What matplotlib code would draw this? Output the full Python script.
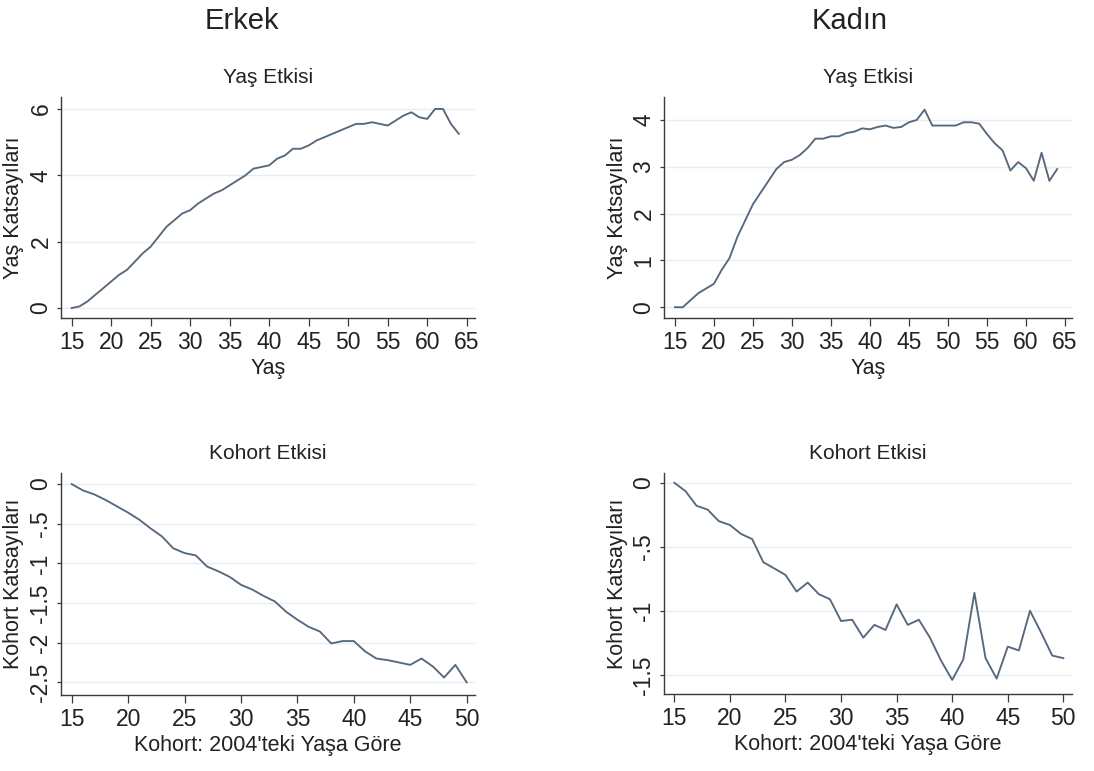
import matplotlib
matplotlib.use("Agg")
import matplotlib.pyplot as plt

# ---------------- data ----------------
age = list(range(15, 65))
age_effect_male = [0.0, 0.05, 0.2, 0.4, 0.6, 0.8, 1.0, 1.15, 1.4, 1.65,
                   1.85, 2.15, 2.45, 2.65, 2.85, 2.95, 3.15, 3.3, 3.45, 3.55,
                   3.7, 3.85, 4.0, 4.2, 4.25, 4.3, 4.5, 4.6, 4.8, 4.8,
                   4.9, 5.05, 5.15, 5.25, 5.35, 5.45, 5.55, 5.55, 5.6, 5.55,
                   5.5, 5.65, 5.8, 5.9, 5.75, 5.7, 6.0, 6.0, 5.55, 5.25]
age_effect_female = [0.0, 0.0, 0.15, 0.3, 0.4, 0.5, 0.8, 1.05, 1.5, 1.85,
                     2.2, 2.45, 2.7, 2.95, 3.1, 3.15, 3.25, 3.4, 3.6, 3.6,
                     3.65, 3.65, 3.72, 3.75, 3.82, 3.8, 3.85, 3.88, 3.83, 3.85,
                     3.95, 4.0, 4.22, 3.88, 3.88, 3.88, 3.88, 3.95, 3.95, 3.92,
                     3.7, 3.5, 3.35, 2.92, 3.1, 2.97, 2.7, 3.3, 2.7, 2.95]

cohort = list(range(15, 51))
cohort_effect_male = [0.0, -0.08, -0.13, -0.2, -0.28, -0.36, -0.45, -0.56, -0.66, -0.81,
                      -0.87, -0.9, -1.04, -1.1, -1.17, -1.27, -1.33, -1.41, -1.48, -1.61,
                      -1.71, -1.8, -1.86, -2.01, -1.98, -1.98, -2.11, -2.2, -2.22, -2.25,
                      -2.28, -2.2, -2.3, -2.44, -2.28, -2.5]
cohort_effect_female = [0.0, -0.065, -0.18, -0.21, -0.3, -0.33, -0.4, -0.44, -0.62, -0.67,
                        -0.72, -0.85, -0.78, -0.87, -0.91, -1.08, -1.07, -1.21, -1.11, -1.15,
                        -0.95, -1.11, -1.07, -1.21, -1.39, -1.54, -1.38, -0.86, -1.37, -1.53,
                        -1.28, -1.31, -1.0, -1.17, -1.35, -1.37]

age_xticks = [15, 20, 25, 30, 35, 40, 45, 50, 55, 60, 65]
cohort_xticks = [15, 20, 25, 30, 35, 40, 45, 50]
male_age_yticks = [0, 2, 4, 6]
female_age_yticks = [0, 1, 2, 3, 4]
male_cohort_yticks = [0, -0.5, -1, -1.5, -2, -2.5]
female_cohort_yticks = [0, -0.5, -1, -1.5]

group_titles = ["Erkek", "Kadın"]
panel_titles = ["Yaş Etkisi", "Kohort Etkisi"]
age_xlabel = "Yaş"
cohort_xlabel = "Kohort: 2004'teki Yaşa Göre"
age_ylabel = "Yaş Katsayıları"
cohort_ylabel = "Kohort Katsayıları"

# ---------------- style ----------------
plt.rcParams["font.family"] = ["Liberation Sans", "DejaVu Sans"]

W, H = 1094, 771
fig = plt.figure(figsize=(W / 100, H / 100), dpi=100)
fig.patch.set_facecolor("white")

LINE = "#56687c"
GRID = "#eaedf0"
AX = "#3a3a3a"
TXT = "#222222"


def fmt(v):
    if v == int(v):
        return str(int(v))
    return ("%g" % v).replace("0.", ".")


def make_ax(px_left, px_right, px_top, px_bottom):
    return fig.add_axes([px_left / W, 1 - px_bottom / H,
                         (px_right - px_left) / W, (px_bottom - px_top) / H])


def style(ax, x, y, xlim, ylim, xticks, yticks, title, xlabel, ylabel, ylab_x):
    ax.plot(x, y, color=LINE, lw=1.35)
    ax.set_xlim(*xlim)
    ax.set_ylim(*ylim)
    ax.set_xticks(xticks)
    ax.set_xticklabels([fmt(t) for t in xticks])
    ax.set_yticks(yticks)
    ax.set_yticklabels([fmt(t) for t in yticks], rotation=90, va="center")
    for t in yticks:
        ax.axhline(t, color=GRID, lw=1.0, zorder=0)
    for s in ["top", "right"]:
        ax.spines[s].set_visible(False)
    for s in ["left", "bottom"]:
        ax.spines[s].set_color(AX)
        ax.spines[s].set_linewidth(1.0)
    ax.tick_params(axis="x", length=5.5, width=0.9, color=AX, labelsize=16.5, pad=4, labelcolor=TXT)
    ax.tick_params(axis="y", length=3.2, width=0.9, color=AX, labelsize=16.5, pad=3.0, labelcolor=TXT)
    ax.set_title(title, fontsize=15, pad=10, color=TXT)
    ax.set_xlabel(xlabel, fontsize=15.5, labelpad=2.5, color=TXT)
    ax.set_ylabel(ylabel, fontsize=15.5, color=TXT, va="center")
    ax.yaxis.set_label_coords(ylab_x, 0.5)


ax1 = make_ax(61, 475, 97, 318)
style(ax1, age, age_effect_male, (13.65, 66.05), (-0.3, 6.36),
      age_xticks, male_age_yticks, panel_titles[0], age_xlabel, age_ylabel, (14 - 61) / 414)

ax2 = make_ax(664, 1072, 97, 318)
style(ax2, age, age_effect_female, (13.6, 65.9), (-0.23, 4.49),
      age_xticks, female_age_yticks, panel_titles[0], age_xlabel, age_ylabel, (618 - 664) / 408)

ax3 = make_ax(61, 475, 473, 695)
style(ax3, cohort, cohort_effect_male, (14.05, 50.74), (-2.66, 0.14),
      cohort_xticks, male_cohort_yticks, panel_titles[1], cohort_xlabel, cohort_ylabel, (14 - 61) / 414)

ax4 = make_ax(664, 1072, 473, 694)
style(ax4, cohort, cohort_effect_female, (14.07, 50.78), (-1.65, 0.076),
      cohort_xticks, female_cohort_yticks, panel_titles[1], cohort_xlabel, cohort_ylabel, (618 - 664) / 408)

fig.text(242 / W, 1 - 21 / H, group_titles[0], fontsize=21, ha="center", va="center", color=TXT)
fig.text(850 / W, 1 - 21 / H, group_titles[1], fontsize=21, ha="center", va="center", color=TXT)

fig.savefig("out.png", dpi=100, facecolor="white")
